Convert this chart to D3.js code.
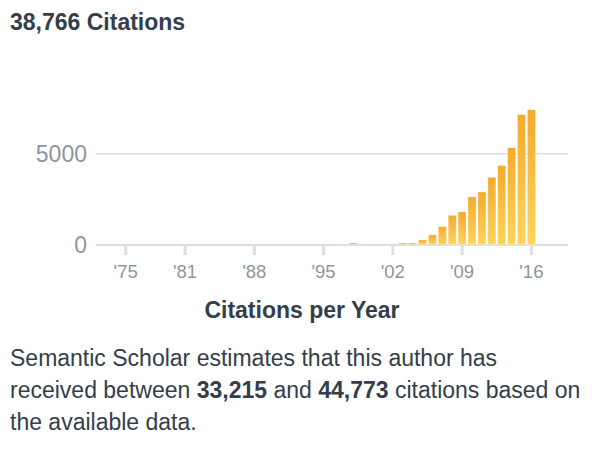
<!DOCTYPE html>
<html>
<head>
<meta charset="utf-8">
<script src="https://cdn.jsdelivr.net/npm/d3@7"></script>
<style>
  html, body { margin: 0; padding: 0; background: #fff; }
  svg { display: block; font-family: "Liberation Sans", Arial, sans-serif; }
</style>
</head>
<body>
<svg id="chart" width="600" height="450"></svg>
<script>
// citations per year
const years = [1998, 1999, 2000, 2001, 2002, 2003, 2004, 2005, 2006, 2007, 2008,
  2009, 2010, 2011, 2012, 2013, 2014, 2015, 2016];
const citations = [110, 0, 0, 0, 0, 110, 110, 275, 550, 1005, 1625,
  1810, 2630, 2900, 3705, 4345, 5330, 7135, 7410];

const tickYears = [1975, 1981, 1988, 1995, 2002, 2009, 2016];
const tickLabels = ["'75", "'81", "'88", "'95", "'02", "'09", "'16"];
const yTicks = [0, 5000];

const totalText = "38,766 Citations";
const axisTitle = "Citations per Year";
const lowEstimate = "33,215";
const highEstimate = "44,773";

const textColor = "#333e4b";
const gridColor = "#dedede";

const svg = d3.select("#chart");

const x = d3.scaleLinear()
  .domain([1972, 2019.7])
  .range([96, 568]);

const y = d3.scaleLinear()
  .domain([0, 5000])
  .range([245, 153.7]);

// gradient for bars
const defs = svg.append("defs");
const grad = defs.append("linearGradient")
  .attr("id", "barGrad")
  .attr("x1", 0).attr("y1", 0)
  .attr("x2", 0).attr("y2", 1);
grad.append("stop").attr("offset", "0%").attr("stop-color", "#f4aa2c");
grad.append("stop").attr("offset", "100%").attr("stop-color", "#fdd45e");

// title
svg.append("text")
  .attr("x", 10)
  .attr("y", 30)
  .attr("font-size", 23)
  .attr("font-weight", "bold")
  .attr("fill", textColor)
  .text(totalText);

// grid lines
svg.append("g")
  .selectAll("line")
  .data(yTicks)
  .enter()
  .append("line")
  .attr("x1", x.range()[0])
  .attr("x2", x.range()[1])
  .attr("y1", d => y(d))
  .attr("y2", d => y(d))
  .attr("stroke", gridColor)
  .attr("stroke-width", d => d === 0 ? 2 : 1.5);

// y tick labels
svg.append("g")
  .selectAll("text")
  .data(yTicks)
  .enter()
  .append("text")
  .attr("x", 87)
  .attr("y", d => y(d))
  .attr("dy", "0.36em")
  .attr("text-anchor", "end")
  .attr("font-size", 23)
  .attr("fill", "#8c969f")
  .text(d => d);

// x tick marks
svg.append("g")
  .selectAll("line")
  .data(tickYears)
  .enter()
  .append("line")
  .attr("x1", d => x(d))
  .attr("x2", d => x(d))
  .attr("y1", y(0))
  .attr("y2", y(0) + 10)
  .attr("stroke", gridColor)
  .attr("stroke-width", 3);

// x tick labels
svg.append("g")
  .selectAll("text")
  .data(tickYears)
  .enter()
  .append("text")
  .attr("x", d => x(d))
  .attr("y", 278)
  .attr("text-anchor", "middle")
  .attr("font-size", 18.5)
  .attr("fill", "#8c969f")
  .text((d, i) => tickLabels[i]);

// bars
const barW = 8;
svg.append("g")
  .selectAll("rect")
  .data(years.map((yr, i) => ({ year: yr, value: citations[i] })).filter(d => d.value > 0))
  .enter()
  .append("rect")
  .attr("x", d => x(d.year) - barW / 2)
  .attr("y", d => y(d.value))
  .attr("width", barW)
  .attr("height", d => y(0) - 0.5 - y(d.value))
  .attr("fill", "url(#barGrad)")
  .attr("stroke", "#ffffff")
  .attr("stroke-opacity", 0.35)
  .attr("stroke-width", 0.8);

// axis title
svg.append("text")
  .attr("x", 302)
  .attr("y", 318)
  .attr("text-anchor", "middle")
  .attr("font-size", 23)
  .attr("font-weight", "bold")
  .attr("fill", textColor)
  .text(axisTitle);

// description paragraph
const para = svg.append("text")
  .attr("font-size", 23)
  .attr("fill", textColor);

para.append("tspan").attr("x", 10).attr("y", 366)
  .text("Semantic Scholar estimates that this author has");

const line2 = para.append("tspan").attr("x", 10).attr("y", 398);
line2.append("tspan").text("received between ");
line2.append("tspan").attr("font-weight", "bold").text(lowEstimate);
line2.append("tspan").text(" and ");
line2.append("tspan").attr("font-weight", "bold").text(highEstimate);
line2.append("tspan").text(" citations based on");

para.append("tspan").attr("x", 10).attr("y", 430)
  .text("the available data.");
</script>
</body>
</html>
